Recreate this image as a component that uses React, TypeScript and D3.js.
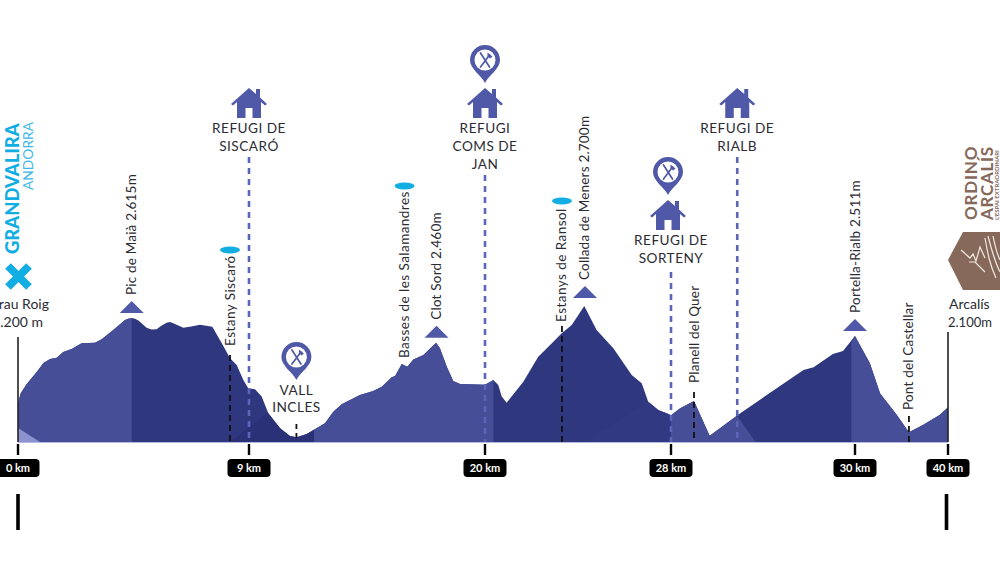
import * as d3 from 'd3'
import { useEffect, useRef } from 'react'

// elevation profile
const profileKm = [
  0, 0.11, 0.34, 0.73, 0.99, 1.25, 1.51, 1.76, 2.09, 2.48, 3.0, 3.26, 3.71, 4.17, 4.29, 4.43, 4.56, 4.69, 5.01, 5.2,
  5.4, 5.6, 5.79, 5.92, 6.05, 6.44, 6.75, 7.09, 7.57, 7.94, 8.26, 8.52, 8.78, 8.97, 9.28, 9.59, 9.9, 10.45, 10.91,
  11.22, 11.69, 12.54, 12.93, 13.32, 14.17, 14.79, 15.19, 15.65, 15.81, 16.12, 16.38, 16.66, 17.13, 17.72, 17.9,
  18.22, 18.52, 18.84, 20, 20.36, 20.57, 20.72, 20.93, 21.65, 22.29, 22.94, 23.3, 23.73, 24.27, 24.8, 25.52, 26.31,
  26.74, 27.02, 27.45, 27.81, 28, 28.1, 28.25, 28.42, 28.71, 29.44, 29.55, 29.76, 29.87, 30, 31.6, 32.7, 34.5, 35.8,
  37.3, 39.1, 40,
]
const profileElevation = [
  2129, 2188, 2241, 2312, 2365, 2388, 2396, 2429, 2447, 2481, 2484, 2504, 2559, 2618, 2625, 2629, 2625, 2614, 2572,
  2562, 2563, 2586, 2602, 2606, 2598, 2572, 2580, 2590, 2578, 2481, 2392, 2353, 2265, 2216, 2210, 2167, 2069, 1981,
  1935, 1928, 1947, 2010, 2078, 2122, 2176, 2200, 2225, 2281, 2288, 2359, 2343, 2386, 2412, 2484, 2451, 2343, 2259,
  2241, 2237, 2265, 2235, 2167, 2131, 2255, 2402, 2490, 2539, 2588, 2700, 2559, 2451, 2294, 2245, 2137, 2088, 2069,
  2057, 2098, 2141, 1937, 2053, 2324, 2339, 2418, 2435, 2524, 2363, 2186, 2059, 1957, 2000, 2059, 2104,
]

const tickKm = [0, 9, 20, 28, 30, 40]
const tickLabels = ['0 km', '9 km', '20 km', '28 km', '30 km', '40 km']

const peakNames = ['Pic de Maià 2.615m', 'Clot Sord 2.460m', 'Collada de Meners 2.700m', 'Portella-Rialb 2.511m']
const peakKm = [4.43, 17.74, 24.3, 30]
const peakElevation = [2629, 2484, 2700, 2524]

const lakeNames = ['Estany Siscaró', 'Basses de les Salamandres', 'Estanys de Ransol']
const lakeKm = [8.26, 16.25, 23.31]

const passNames = ['Planell del Quer', 'Pont del Castellar']
const passKm = [28.25, 35.8]

const refugeKm = [9, 20, 28, 28.72]
const refugeLines = [['REFUGI DE', 'SISCARÓ'], ['REFUGI', 'COMS DE', 'JAN'], ['REFUGI DE', 'SORTENY'], ['REFUGI DE', 'RIALB']]

// lighter stretches of the mountain, [from km, to km]
const lightBands = [[0, 4.43], [12.03, 20.36], [28, 28.42], [29.96, 40]]

const lilacShape = [[0, 1983], [0, 1900], [0.86, 1900]]
const deepShape = [[8.26, 1900], [9.9, 2075], [12.03, 2075], [12.03, 1900]]
const softShape = [[24.3, 1900], [27.02, 2135], [28, 2135], [28, 1900]]
const ridgeShape = [[28.42, 1937], [28.72, 2053], [28.92, 1900], [28.42, 1900]]

const ink = '#2b2b33'
const lightBlue = '#454e97'
const darkBlue = '#2f377f'
const iconBlue = '#5058a8'
const dashBlue = '#5d65b9'
const cyan = '#12ade3'
const brown = '#86695a'
const font = 'Lato, sans-serif'

export default function App() {
  const svgRef = useRef<SVGSVGElement | null>(null)

  useEffect(() => {
    if (!svgRef.current)
      return

    const svg = d3.select(svgRef.current)
    svg.selectAll('*').remove()

    // the km marks are not evenly spaced in the drawing
    const x = d3.scaleLinear().domain(tickKm).range([18, 249, 485, 671, 855, 948])
    const y = d3.scaleLinear().domain([1900, 2700]).range([442, 306])
    const baseY = y(1900)

    const area = d3.area<number>()
      .x(i => x(profileKm[i]))
      .y0(baseY)
      .y1(i => y(profileElevation[i]))

    const indexes = profileKm.map((_, i) => i)
    svg.append('clipPath').attr('id', 'mountain')
      .append('path').attr('d', area(indexes))

    const mountain = svg.append('g').attr('clip-path', 'url(#mountain)')
    mountain.append('rect')
      .attr('x', 0).attr('y', 280)
      .attr('width', 1000).attr('height', baseY - 280)
      .attr('fill', darkBlue)
    mountain.selectAll(null)
      .data(lightBands)
      .enter()
      .append('rect')
      .attr('x', d => x(d[0]))
      .attr('width', d => x(d[1]) - x(d[0]))
      .attr('y', 280)
      .attr('height', baseY - 280)
      .attr('fill', lightBlue)

    const shape = d3.line<number[]>().x(d => x(d[0])).y(d => y(d[1]))
    const drawShape = (pts: number[][], fill: string) => {
      mountain.append('path').attr('d', shape(pts) + 'Z').attr('fill', fill)
    }
    drawShape(lilacShape, '#8d93cf')
    drawShape(deepShape, '#2a3177')
    drawShape(softShape, '#313982')
    drawShape(ridgeShape, lightBlue)

    svg.append('line')
      .attr('x1', 18).attr('x2', 948)
      .attr('y1', baseY + 0.5).attr('y2', baseY + 0.5)
      .attr('stroke', '#b4b8dc').attr('stroke-width', 1)

    const text = (
      str: string,
      px: number,
      py: number,
      size: number,
      fill = ink,
      anchor = 'middle',
      rotate = 0,
      weight = 400,
    ) => svg.append('text')
      .attr('transform', `translate(${px},${py}) rotate(${rotate})`)
      .attr('text-anchor', anchor)
      .attr('font-family', font)
      .attr('font-size', size)
      .attr('font-weight', weight)
      .attr('fill', fill)
      .text(str)

    const dashed = (px: number, y1: number, color: string, w: number, dash: string) => {
      svg.append('line')
        .attr('x1', px).attr('x2', px)
        .attr('y1', y1).attr('y2', baseY)
        .attr('stroke', color)
        .attr('stroke-width', w)
        .attr('stroke-dasharray', dash)
    }

    const house = (px: number, top: number) => {
      const g = svg.append('g').attr('transform', `translate(${px},${top})`)
      g.append('path')
        .attr('d', 'M0,0 L7,6 L7,1 L11,1 L11,9.5 L18,16 L16,17.5 L12,14 L12,30 L3.5,30 L3.5,20 L-3.5,20 L-3.5,30 L-12,30 L-12,14 L-16,17.5 L-18,16 Z')
        .attr('fill', iconBlue)
    }

    const pin = (px: number, top: number) => {
      const g = svg.append('g').attr('transform', `translate(${px},${top})`)
      g.append('path')
        .attr('d', 'M0,38 C-4,30 -15,24 -15,15 A15,15 0 1 1 15,15 C15,24 4,30 0,38 Z')
        .attr('fill', iconBlue)
      g.append('circle').attr('cy', 15).attr('r', 10.5).attr('fill', '#fff')
      // crossed knife and fork
      g.append('path')
        .attr('d', 'M-4.5,8 L4.5,22 M4.5,10 L-4.5,22')
        .attr('stroke', iconBlue)
        .attr('stroke-width', 1.7)
        .attr('stroke-linecap', 'round')
        .attr('fill', 'none')
      g.append('path')
        .attr('d', 'M2.5,7.5 L7.5,11.5 L5,13.5 L2.5,11 Z')
        .attr('fill', iconBlue)
    }

    // refuges: dashed line, title, house and sometimes a restaurant pin
    const refugeTop = [157, 175, 272, 157]
    const houseTop = [88, 88, 200, 88]
    const titleTop = [133, 133, 245, 133]
    const iconShift = [0, 0, -3, 0]
    refugeKm.forEach((km, i) => {
      const px = x(km)
      dashed(px, refugeTop[i], dashBlue, 2.6, '6 5')
      house(px + iconShift[i], houseTop[i])
      refugeLines[i].forEach((line, j) => {
        text(line, px, titleTop[i] + j * 18, 13.6).attr('letter-spacing', 0.5)
      })
    })
    pin(x(20), 45)
    pin(x(28) - 3, 157)

    // Vall Incles
    const vallX = x(11.21)
    dashed(vallX, 424, '#111', 1.8, '5 4')
    pin(vallX, 342)
    text('VALL', vallX, 394.5, 13.6).attr('letter-spacing', 0.5)
    text('INCLES', vallX, 412, 13.6).attr('letter-spacing', 0.5)

    // peaks
    peakNames.forEach((name, i) => {
      const px = x(peakKm[i])
      const apex = y(peakElevation[i]) - (i === 2 ? 20 : 17)
      svg.append('path')
        .attr('d', 'M0,0 L12,12 L-12,12 Z')
        .attr('transform', `translate(${px},${apex})`)
        .attr('fill', iconBlue)
      text(name, px + 4.5, apex - 6, 13.5, ink, 'start', -90).attr('letter-spacing', 0.2)
    })

    // lakes
    const lakeTextBottom = [346, 358, 322]
    const lakeDot = [250, 186, 201]
    lakeNames.forEach((name, i) => {
      const px = x(lakeKm[i])
      text(name, px + 4.5, lakeTextBottom[i], 13.5, ink, 'start', -90).attr('letter-spacing', 0.45)
      svg.append('ellipse')
        .attr('cx', px).attr('cy', lakeDot[i])
        .attr('rx', 10).attr('ry', 3.4)
        .attr('fill', cyan)
    })
    dashed(x(lakeKm[0]), 355, '#111', 1.8, '6 4')
    dashed(x(lakeKm[2]), 326, '#111', 1.8, '6 4')

    // other points along the way
    const passTextBottom = [383, 410]
    const passLine = [392, 416]
    passNames.forEach((name, i) => {
      const px = x(passKm[i])
      text(name, px + 4.5, passTextBottom[i], 13.5, ink, 'start', -90).attr('letter-spacing', 0.2)
      dashed(px, passLine[i], '#111', 1.8, '6 4')
    })

    // start and finish
    svg.append('line').attr('x1', 18).attr('x2', 18).attr('y1', 337).attr('y2', baseY).attr('stroke', '#222').attr('stroke-width', 1.6)
    svg.append('line').attr('x1', 948).attr('x2', 948).attr('y1', 332).attr('y2', baseY).attr('stroke', '#222').attr('stroke-width', 1.6)
    text('Grau Roig', 49, 309, 14, ink, 'end')
    text('2.200 m', 43, 327, 14, ink, 'end')
    text('Arcalís', 949, 309, 14, ink, 'start')
    text('2.100m', 948, 327, 13, ink, 'start')

    // km ticks
    tickKm.forEach((km, i) => {
      const px = x(km)
      svg.append('rect')
        .attr('x', px - 1.2).attr('y', baseY + 2)
        .attr('width', 2.4).attr('height', 11)
        .attr('fill', '#000')
      svg.append('rect')
        .attr('x', px - 21.5).attr('y', 459)
        .attr('width', 43).attr('height', 18)
        .attr('rx', 4)
        .attr('fill', '#000')
      text(tickLabels[i], px, 472, 11, '#fff', 'middle', 0, 700)
    })
    svg.selectAll('.foot')
      .data([18, 946.5])
      .enter()
      .append('rect')
      .attr('class', 'foot')
      .attr('x', d => d - 1.8)
      .attr('y', 494)
      .attr('width', 3.6)
      .attr('height', 36)
      .attr('fill', '#000')

    // Grandvalira logo
    text('GRANDVALIRA', 18.5, 254, 18.4, cyan, 'start', -90, 900)
    text('ANDORRA', 33, 190, 13.8, '#3ab9e8', 'start', -90, 400)
    svg.append('path')
      .attr('d', 'M8,266 L29,287 M29,266 L8,287')
      .attr('stroke', cyan)
      .attr('stroke-width', 8)

    // Ordino Arcalís logo
    text('ORDINO', 977, 220, 17, brown, 'start', -90, 700).attr('letter-spacing', 0.8)
    text('ARCALÍS', 993, 220, 17, brown, 'start', -90, 700).attr('letter-spacing', 0.7)
    text("L'ESPAI EXTRAORDINARI", 998.5, 220, 6, brown, 'start', -90, 700)
    svg.append('path')
      .attr('d', 'M948,260 L963,232 L1000,232 L1000,290 L963,290 Z')
      .attr('fill', brown)
    svg.append('path')
      .attr('d', 'M961,250 L970,258 L973,254 L976,261 L980,247 L985,258 M969,262 L975,262 L985,272 M985,238 C988,255 990,265 996,278 M988,236 C992,252 995,262 1000,272 M993,236 C995,246 997,254 1000,260')
      .attr('stroke', '#f1e9e2')
      .attr('stroke-width', 1.2)
      .attr('fill', 'none')
  }, [])

  return <svg ref={svgRef} width={1000} height={575} style={{ position: 'absolute', left: 0, top: 0, background: '#fff' }} />
}
